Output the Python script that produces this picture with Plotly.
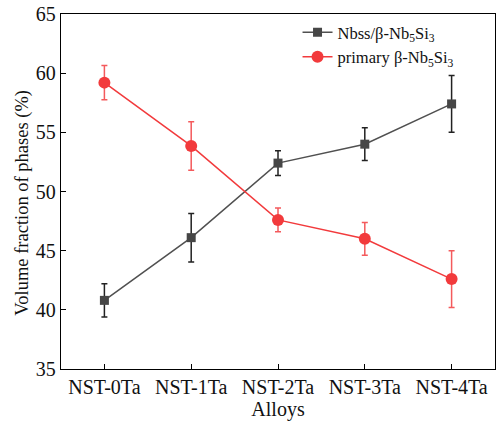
import plotly.graph_objects as go

alloys = ["NST-0Ta", "NST-1Ta", "NST-2Ta", "NST-3Ta", "NST-4Ta"]
nbss = [40.8, 46.1, 52.4, 54.0, 57.4]
nbss_err = [1.4, 2.05, 1.05, 1.38, 2.4]
primary = [59.2, 53.85, 47.6, 46.0, 42.6]
primary_err = [1.45, 2.05, 1.0, 1.38, 2.4]

FONT = "Liberation Serif, Times New Roman, serif"
GRAY = "#464646"
RED = "#f23a3c"

fig = go.Figure()
fig.add_trace(go.Scatter(
    x=alloys, y=nbss, mode="lines+markers",
    name="Nbss/β-Nb<sub>5</sub>Si<sub>3</sub>",
    line=dict(color="#505050", width=1.5),
    marker=dict(symbol="square", size=9, color=GRAY),
    error_y=dict(type="data", array=nbss_err, visible=True, color="#222222", thickness=1.5, width=3),
))
fig.add_trace(go.Scatter(
    x=alloys, y=primary, mode="lines+markers",
    name="primary β-Nb<sub>5</sub>Si<sub>3</sub>",
    line=dict(color=RED, width=1.5),
    marker=dict(symbol="circle", size=12, color=RED),
    error_y=dict(type="data", array=primary_err, visible=True, color="#f45a5c", thickness=1.5, width=3),
))

fig.update_layout(
    width=498, height=423,
    margin=dict(l=61, r=3, t=14, b=54),
    paper_bgcolor="white", plot_bgcolor="white",
    font=dict(family=FONT, size=20, color="#111111"),
    showlegend=True,
    legend=dict(x=0.545, y=0.997, xanchor="left", yanchor="top",
                bgcolor="rgba(255,255,255,0)", font=dict(family=FONT, size=16.5, color="#111111"),
                tracegroupgap=0, itemwidth=30),
    annotations=[dict(
        text="Volume fraction of phases (%)", textangle=-90,
        xref="paper", yref="paper", x=-0.088, y=0.468,
        xanchor="center", yanchor="middle", showarrow=False,
        font=dict(family=FONT, size=18.5, color="#111111"),
    )],
)
fig.update_xaxes(
    type="category", range=[-0.5, 4.5],
    showline=True, linecolor="black", linewidth=1.3, mirror=True,
    ticks="inside", ticklen=5, tickcolor="black", tickwidth=1.2,
    showgrid=False, zeroline=False,
    title=dict(text="Alloys", font=dict(family=FONT, size=20), standoff=4),
    tickfont=dict(family=FONT, size=20),
)
fig.update_yaxes(
    range=[35, 65], tickvals=[35, 40, 45, 50, 55, 60, 65],
    showline=True, linecolor="black", linewidth=1.3, mirror=True,
    ticks="inside", ticklen=5, tickcolor="black", tickwidth=1.2,
    showgrid=False, zeroline=False,
    tickfont=dict(family=FONT, size=20),
)

fig.write_html("out.html")
